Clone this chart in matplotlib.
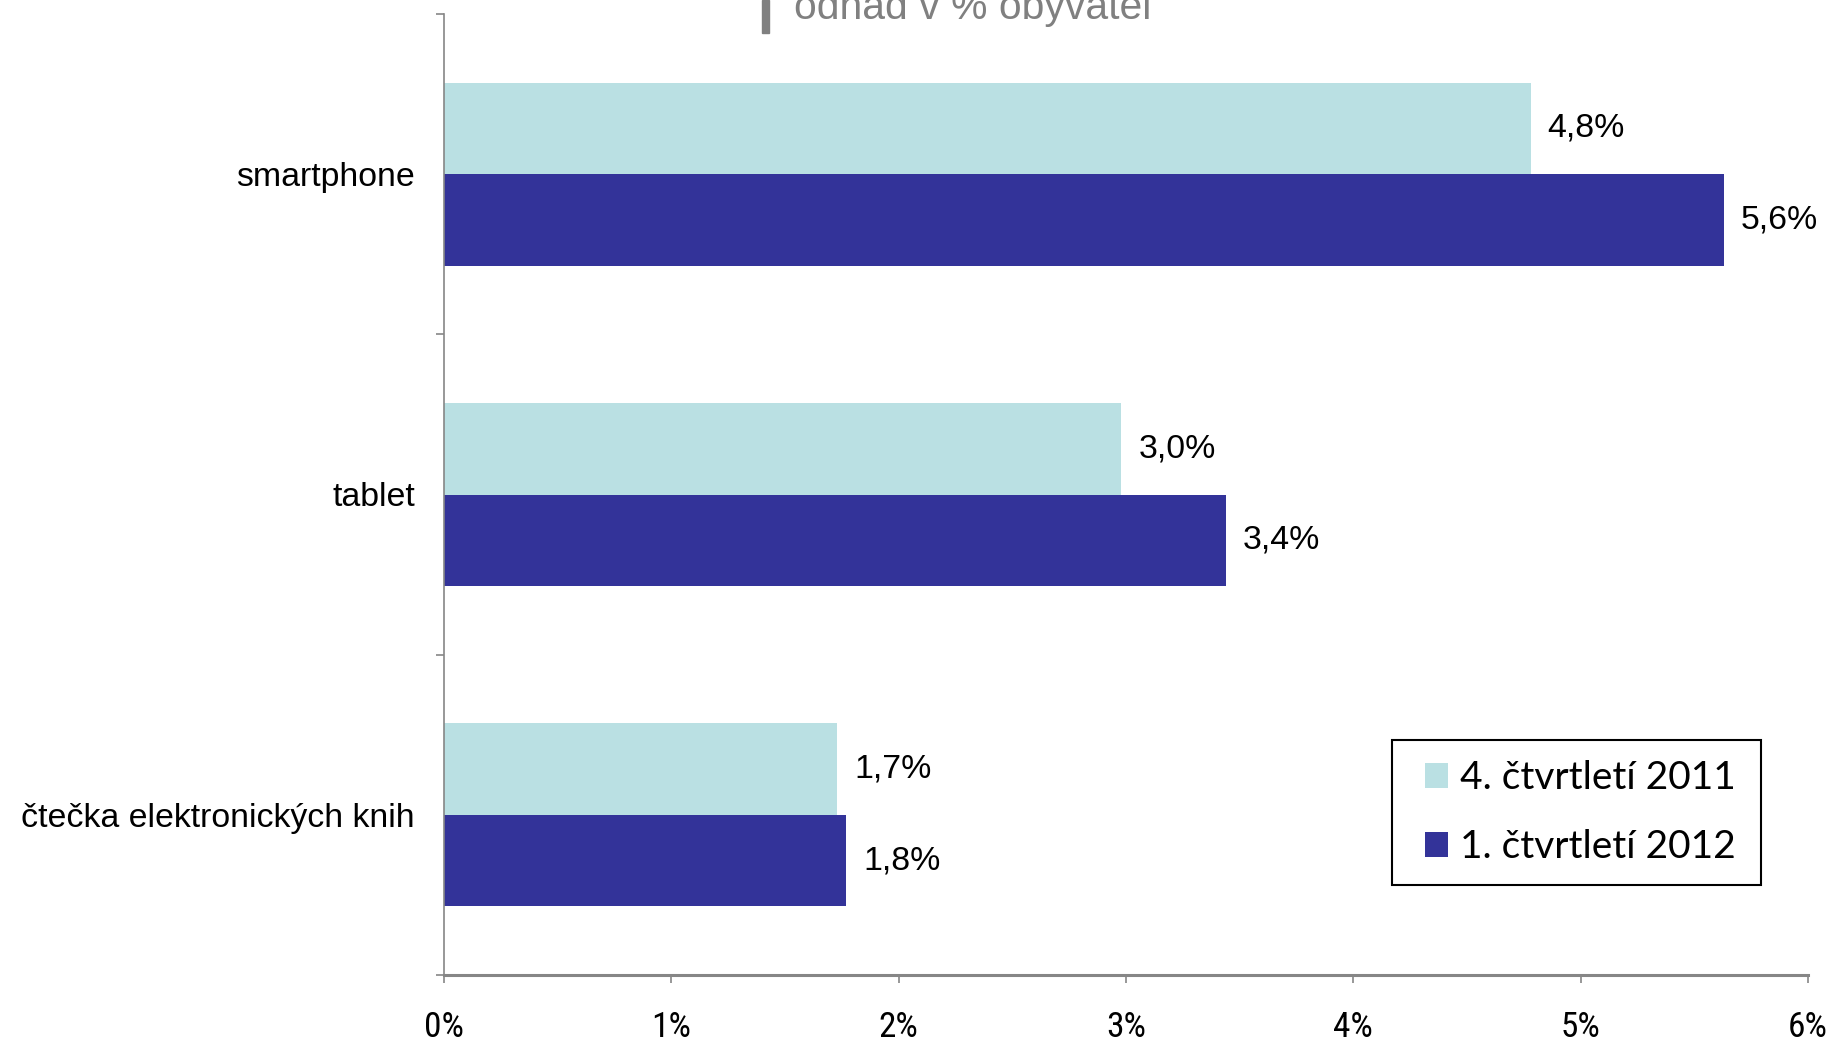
import numpy as np
import matplotlib.pyplot as plt
from matplotlib.patches import Rectangle
from matplotlib import font_manager

# data
categories = ['čtečka elektronických knih', 'tablet', 'smartphone']
q4_2011 = [1.73, 2.98, 4.78]
q1_2012 = [1.77, 3.44, 5.63]
series_names = ['4. čtvrtletí 2011', '1. čtvrtletí 2012']
x_ticks = [0, 1, 2, 3, 4, 5, 6]

light = '#BAE0E3'
dark = '#333399'
axis_grey = '#868686'

# narrow face for the percent scale, if one is available
names = {f.name for f in font_manager.fontManager.ttflist}
narrow = [n for n in ('Liberation Sans Narrow', 'Arial Narrow', 'Roboto Condensed',
                      'Open Sans Condensed') if n in names]
cond = [f for f in font_manager.fontManager.ttflist
        if f.name == 'DejaVu Sans' and f.stretch == 'condensed']

W, H = 1837, 1041
fig = plt.figure(figsize=(W / 100, H / 100), dpi=100)
ax = fig.add_axes([444 / W, 66 / H, (1808 - 444) / W, (975 - 14) / H])

y = np.arange(len(categories)) + 0.5
h = 0.286
b1 = ax.barh(y + h / 2, q4_2011, height=h, color=light, label=series_names[0])
b2 = ax.barh(y - h / 2, q1_2012, height=h, color=dark, label=series_names[1])

# value labels
for bars, vals in ((b1, q4_2011), (b2, q1_2012)):
    for bar, v in zip(bars, vals):
        txt = f'{v:.1f}'.replace('.', ',') + '%'
        ax.text(v + 0.075, bar.get_y() + bar.get_height() / 2, txt,
                va='center', ha='left', fontsize=24.4, family='Liberation Sans')

ax.set_xlim(0, 6)
ax.set_ylim(0, 3)
ax.set_xticks(x_ticks)
pct = [f'{t}%' for t in x_ticks]
if narrow:
    ax.set_xticklabels(pct, fontsize=25.5, family=narrow[0], fontweight='normal')
elif cond:
    ax.set_xticklabels(pct, fontsize=23, family='DejaVu Sans', fontstretch='condensed')
else:
    ax.set_xticklabels(pct, fontsize=22, family='Liberation Sans')
ax.set_yticks([0, 1, 2, 3])
ax.set_yticklabels([])
ax.set_yticks(y, minor=True)
ax.set_yticklabels(categories, minor=True, fontsize=24.4, family='Liberation Sans')
ax.tick_params(axis='y', which='minor', length=0, pad=21)
ax.tick_params(axis='y', which='major', length=6, width=1.2, color=axis_grey, direction='out')
ax.tick_params(axis='x', length=6, width=1.2, color=axis_grey, direction='out', pad=20)

for side in ('top', 'right'):
    ax.spines[side].set_visible(False)
ax.spines['left'].set_color(axis_grey)
ax.spines['left'].set_linewidth(1.2)
ax.spines['bottom'].set_color(axis_grey)
ax.spines['bottom'].set_linewidth(2.2)

# legend box drawn separately so the padding can differ per side
box_l, box_r, box_t, box_b = 1392, 1761, 740, 885
fig.patches.append(Rectangle((box_l / W, 1 - box_b / H), (box_r - box_l) / W, (box_b - box_t) / H,
                             transform=fig.transFigure, fill=False, edgecolor='black', linewidth=1.5))
ax.legend(loc='center', bbox_to_anchor=((box_l + box_r) / 2 / W + 0.002, 1 - (box_t + box_b) / 2 / H),
          bbox_transform=fig.transFigure, frameon=False,
          prop={'family': 'Lato', 'size': 28}, handlelength=0.6, handleheight=0.6,
          handletextpad=0.3, labelspacing=0.85, borderpad=0, borderaxespad=0)

# subtitle, partly cut at the top edge
fig.text(794 / W, 1 - 19 / H, 'odhad v % obyvatel', fontsize=29.4,
         color='#808080', va='baseline', ha='left', family='Liberation Sans')
fig.patches.append(Rectangle((762 / W, 1 - 33 / H), 7 / W, 33 / H,
                             transform=fig.transFigure, color='#808080'))

fig.savefig('out.png', dpi=100)
